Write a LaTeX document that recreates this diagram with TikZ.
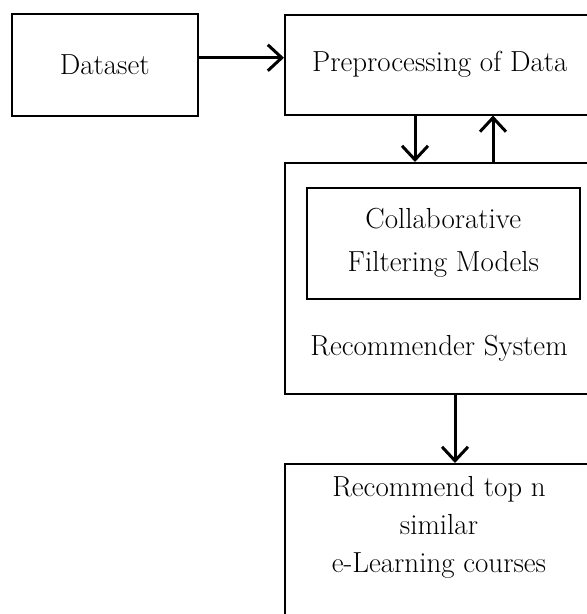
\documentclass[tikz,border=0pt]{standalone}
\usepackage{fontspec}
\usepackage{tikz}
\usetikzlibrary{arrows.meta, positioning}

\begin{document}
\begin{tikzpicture}[x=1pt, y=-1pt,
        box/.style={draw, line width=1.5pt, inner sep=0pt, anchor=north west},
        flow/.style={line width=3pt, -{Straight Barb[length=14pt, width=26pt]}},
        font=\fontsize{29}{38}\selectfont]
    \useasboundingbox (0,0) rectangle (587,614);

    % boxes
    \node[box, minimum width=186pt, minimum height=102pt] (dataset) at (11,13) {Dataset};
    \node[box, minimum width=310pt, minimum height=100pt] (preproc) at (284,14) {Preprocessing of Data};
    \node[box, minimum width=310pt, minimum height=231pt] (recsys) at (284,162) {};
    \node[box, minimum width=273pt, minimum height=111pt, align=center,
          font=\fontsize{29}{43}\selectfont] (cfmodels) at (306,187) {Collaborative\\Filtering Models};
    \node[anchor=base] (recsyslabel) at (439,355) {Recommender System};
    \node[box, minimum width=310pt, minimum height=200pt] (recout) at (284,463) {};
    \node[anchor=north, align=center, inner sep=0pt] (rectext) at (439,476)
        {Recommend top n\\similar\\e-Learning courses};

    % Dataset -> Preprocessing
    \draw[flow] ([yshift=7pt]dataset.east) -- ([yshift=7pt]preproc.west);

    % Preprocessing <-> Recommender System
    \draw[flow] ([xshift=131pt]preproc.south west) -- ([xshift=131pt]recsys.north west);
    \draw[flow] ([xshift=209pt]recsys.north west) -- ([xshift=209pt]preproc.south west);

    % Recommender System -> output
    \draw[flow] ([xshift=171pt]recsys.south west) -- ([xshift=171pt]recout.north west);
\end{tikzpicture}
\end{document}
